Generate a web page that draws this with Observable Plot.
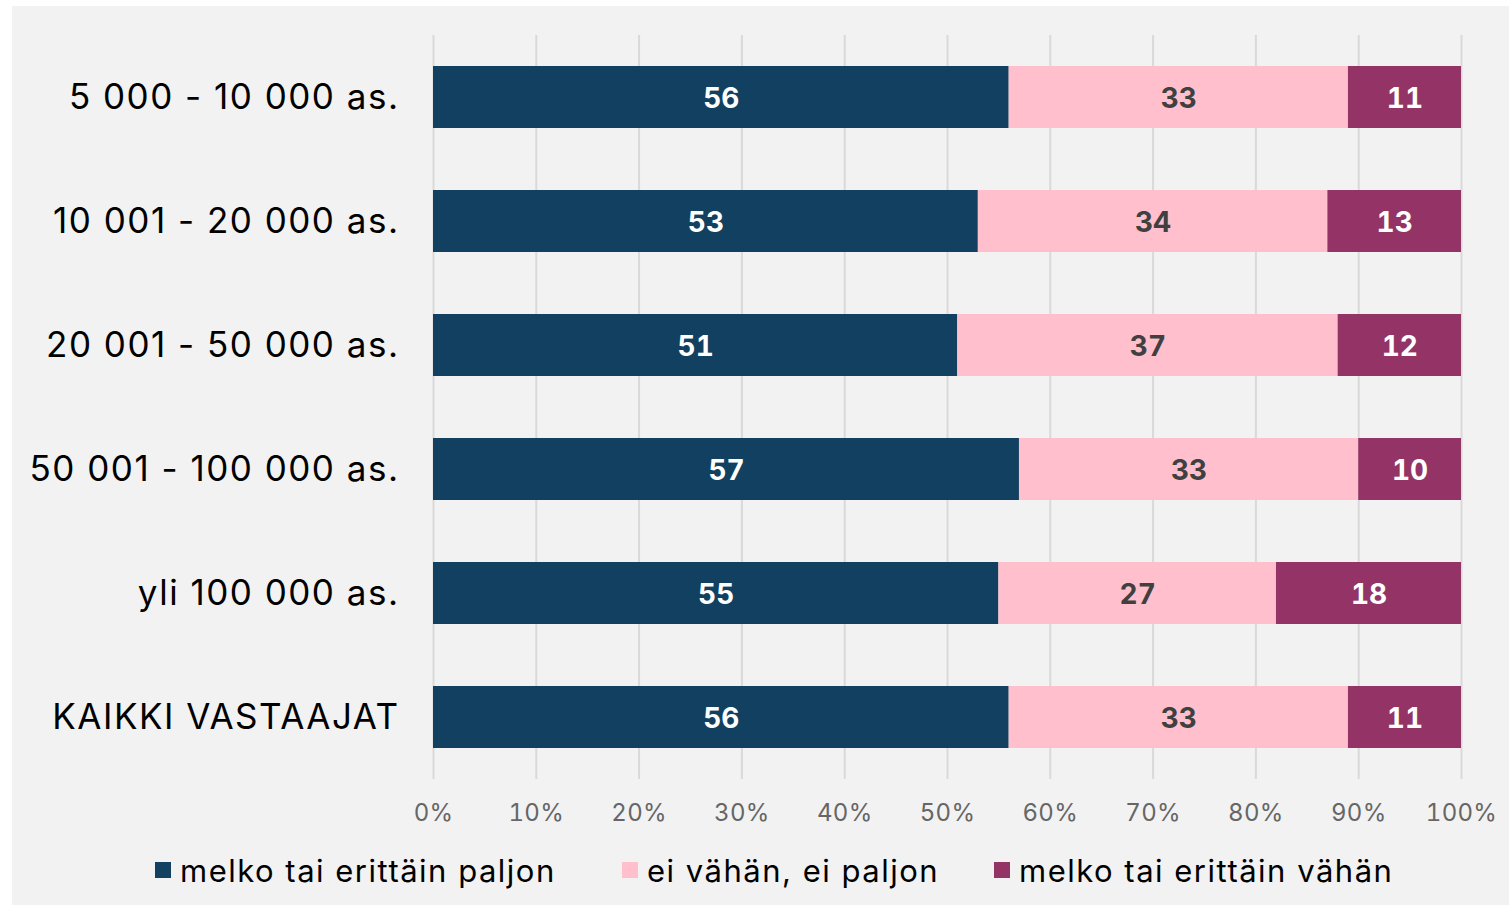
<!DOCTYPE html>
<html><head><meta charset="utf-8">
<script src="https://cdn.jsdelivr.net/npm/d3@7"></script>
<script src="https://cdn.jsdelivr.net/npm/@observablehq/plot@0.6"></script>
<style>
html,body{margin:0;padding:0;background:#fff;}
#panel{position:absolute;left:12px;top:6px;width:1497px;height:899px;background:#f2f2f2;overflow:hidden;font-family:"Inter",sans-serif;}
#chart svg{display:block;background:transparent;}
#chart g[aria-label="y-axis tick label"] text{letter-spacing:1.5px;}
#chart g[aria-label="x-axis tick label"] text{letter-spacing:0.3px;}
.item{position:absolute;top:849px;height:30px;display:flex;align-items:center;font-size:31px;letter-spacing:1.5px;color:#000;white-space:nowrap;}
.sw{width:16px;height:16px;margin-right:9px;flex:none;}
</style>
</head><body>
<div id="panel"><div id="chart"></div></div>
<script>
const categories = ["5 000 - 10 000 as.", "10 001 - 20 000 as.", "20 001 - 50 000 as.", "50 001 - 100 000 as.", "yli 100 000 as.", "KAIKKI VASTAAJAT"];
const seriesNames = ["melko tai erittäin paljon", "ei vähän, ei paljon", "melko tai erittäin vähän"];
const paljon = [56, 53, 51, 57, 55, 56];
const eiVahan = [33, 34, 37, 33, 27, 33];
const vahan = [11, 13, 12, 10, 18, 11];
const xTicks = [0, 10, 20, 30, 40, 50, 60, 70, 80, 90, 100];
const colors = ["#124060", "#ffbfcd", "#943466"];
const legendLeft = [143, 610, 982];

const seriesValues = [paljon, eiVahan, vahan];
const data = [];
categories.forEach((c, i) => {
  seriesNames.forEach((s, j) => data.push({cat: c, series: s, value: seriesValues[j][i]}));
});

const stackOpts = {x: "value", y: "cat", z: "series"};
const labelStyle = {text: "value", fontWeight: "bold", fontSize: 28, dy: 2, fontFamily: "Inter, sans-serif"};
const chart = Plot.plot({
  width: 1497,
  height: 840,
  marginLeft: 421,
  marginRight: 48,
  marginTop: 29,
  marginBottom: 67,
  style: {background: "transparent", fontFamily: "Inter, sans-serif"},
  x: {domain: [0, 100]},
  y: {domain: categories, paddingInner: 0.5, paddingOuter: 0.25},
  color: {domain: seriesNames, range: colors},
  marks: [
    Plot.ruleX(xTicks, {stroke: "#d9d9d9", strokeWidth: 2}),
    Plot.barX(data, Plot.stackX({...stackOpts, fill: "series"})),
    Plot.text(data, Plot.filter(d => d.series !== seriesNames[1], Plot.stackX({...stackOpts, ...labelStyle, fill: "white"}))),
    Plot.text(data, Plot.filter(d => d.series === seriesNames[1], Plot.stackX({...stackOpts, ...labelStyle, fill: "#404040"}))),
    Plot.axisX({ticks: xTicks, tickFormat: d => d + "%", tickSize: 0, tickPadding: 24, fontSize: 24, color: "#666", label: null}),
    Plot.axisY({tickSize: 0, tickPadding: 34, fontSize: 35, color: "#000", label: null})
  ]
});
document.getElementById("chart").appendChild(chart);

const panel = document.getElementById("panel");
seriesNames.forEach((s, j) => {
  const it = document.createElement("div");
  it.className = "item";
  it.style.left = legendLeft[j] + "px";
  const sw = document.createElement("span");
  sw.className = "sw";
  sw.style.background = colors[j];
  const tx = document.createElement("span");
  tx.textContent = s;
  it.appendChild(sw); it.appendChild(tx);
  panel.appendChild(it);
});
</script>
</body></html>
